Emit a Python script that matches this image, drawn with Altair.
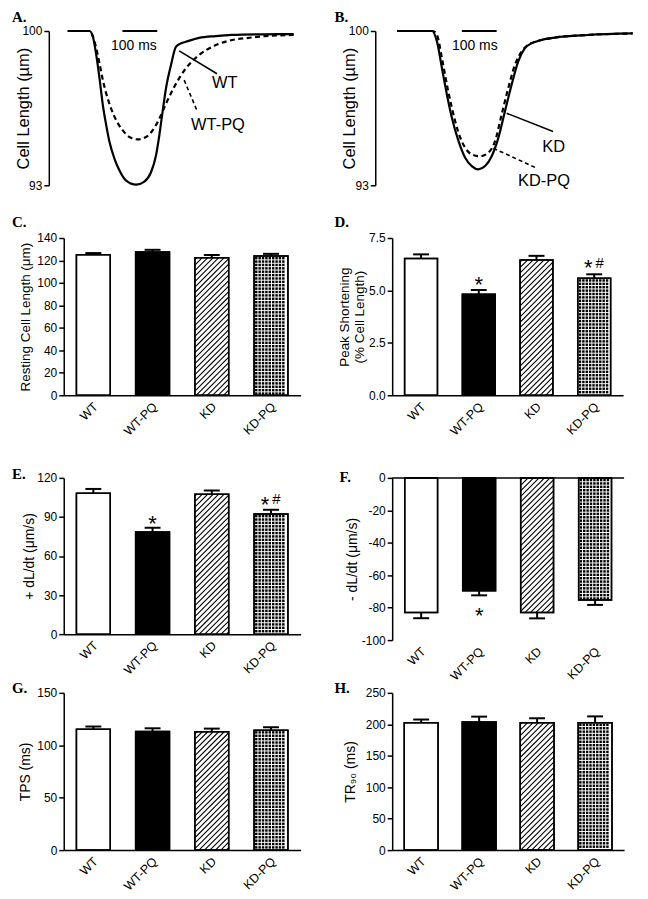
import altair as alt
import pandas as pd

SANS = "Liberation Sans"
SERIF = "Liberation Serif"

CATS = ["WT", "WT-PQ", "KD", "KD-PQ"]
FILLS = ["white", "black", "white", "white"]
HATCHED = "KD"
DOTTED = "KD-PQ"

# ---- Panel A traces (time ms, cell length um)
A_WT_T = [0, 62.9, 72.3, 82, 91.4, 100.9, 110.6, 120, 134.3, 148.6, 167.7, 196.3, 220, 239.1,
          253.4, 262.9, 272.3, 282, 296.3, 310.6, 325.7, 339.1, 377.1, 424.9, 471.4, 567.7, 648.6]
A_WT_L = [100, 100, 99.74, 98.91, 97.84, 96.63, 95.72, 94.96, 94.20, 93.67, 93.21, 93.03, 93.17, 93.59,
          94.35, 95.26, 96.33, 97.39, 98.45, 99.28, 99.44, 99.51, 99.69, 99.77, 99.82, 99.85, 99.86]
A_PQ_T = [0, 62.9, 72.3, 82, 91.4, 100.9, 110.6, 124.9, 139.1, 158, 177.1, 200.9, 224.9, 243.7,
          262.9, 282, 305.7, 339.1, 377.1, 424.9, 472.3, 520, 567.7, 648.6]
A_PQ_L = [100, 100, 99.74, 99.21, 98.52, 97.77, 97.16, 96.47, 95.95, 95.49, 95.19, 95.08, 95.19, 95.49,
          96.02, 96.70, 97.46, 98.30, 98.91, 99.36, 99.59, 99.69, 99.77, 99.82]

# ---- Panel B traces
B_KD_T = [0, 100, 114.3, 128.6, 142.9, 157.1, 176.2, 195.2, 214.3, 233.3, 252.4, 271.4, 290.5,
          309.5, 328.6, 347.6, 366.7, 385.7, 414.3, 452.4, 547.6, 676.2]
B_KD_L = [100, 100, 99.52, 98.31, 97.11, 96.06, 95.00, 94.25, 93.87, 93.72, 93.87, 94.32, 95.15,
          96.36, 97.56, 98.62, 99.22, 99.44, 99.59, 99.70, 99.82, 99.89]
B_PQ_T = [0, 102.4, 114.3, 128.6, 142.9, 157.1, 176.2, 195.2, 214.3, 238.1, 261.9, 281, 300,
          319, 338.1, 357.1, 376.2, 414.3, 452.4, 547.6, 676.2]
B_PQ_L = [100, 100, 99.82, 98.77, 97.56, 96.51, 95.38, 94.70, 94.40, 94.32, 94.48, 95.00, 96.21,
          97.41, 98.46, 99.07, 99.37, 99.59, 99.70, 99.82, 99.89]

# ---- Bar panels: means and SEM
C_MEAN = [125.0, 127.5, 122.5, 124.0]
C_ERR = [1.6, 2.0, 2.4, 1.9]
D_MEAN = [6.52, 4.82, 6.45, 5.58]
D_ERR = [0.20, 0.20, 0.20, 0.19]
E_MEAN = [108.2, 78.4, 107.5, 92.3]
E_ERR = [3.3, 3.3, 2.8, 3.2]
F_MEAN = [-83.0, -69.6, -83.0, -75.3]
F_ERR = [3.5, 2.8, 3.6, 3.0]
G_MEAN = [115.3, 113.1, 112.9, 114.4]
G_ERR = [2.6, 3.1, 3.0, 2.8]
H_MEAN = [202.6, 203.6, 202.6, 202.6]
H_ERR = [5.0, 8.6, 7.0, 10.0]

D_STARS = [("WT-PQ", 5.54), ("KD-PQ", 6.33)]
D_HASH = [("KD-PQ", 6.33)]
E_STARS = [("WT-PQ", 89.5), ("KD-PQ", 103.9)]
E_HASH = [("KD-PQ", 103.9)]
F_STARS = [("WT-PQ", -81.4)]


def letter_layer(letter, lxy):
    return alt.Chart(pd.DataFrame({"s": [letter]})).mark_text(
        font=SERIF, fontWeight="bold", fontSize=15, align="left", baseline="alphabetic", color="black"
    ).encode(text="s:N", x=alt.value(lxy[0]), y=alt.value(lxy[1]))


def trace_panel(letter, lxy, W, H, t_dom, ax_off, title_pad,
                s_t, s_v, d_t, d_v, bar_t, bar_lab, s_lead, s_lab, d_lead, d_lab, names):
    xs = alt.Scale(domain=t_dom, nice=False, zero=False)
    ys = alt.Scale(domain=[93, 100], nice=False, zero=False)
    ya = alt.Axis(values=[93, 100], format="d", title="Cell Length (µm)", offset=ax_off,
                  titlePadding=title_pad, titleFontSize=16.5, tickSize=5, labelFontSize=12, grid=False)
    X = alt.X("x:Q", scale=xs, axis=None)
    Y = alt.Y("y:Q", scale=ys, axis=ya)
    l1 = alt.Chart(pd.DataFrame({"x": s_t, "y": s_v})).mark_line(
        color="black", strokeWidth=2.2, interpolate="monotone").encode(x=X, y=Y)
    l2 = alt.Chart(pd.DataFrame({"x": d_t, "y": d_v})).mark_line(
        color="black", strokeWidth=2.2, strokeDash=[5, 3.5], interpolate="monotone").encode(x=X, y=Y)
    sb = alt.Chart(pd.DataFrame({"x": [bar_t[0]], "x2": [bar_t[1]], "y": [100.0]})).mark_rule(
        color="black", strokeWidth=2).encode(x=X, x2=alt.X2("x2"), y=Y)
    sbt = alt.Chart(pd.DataFrame({"x": [bar_lab[0]], "y": [bar_lab[1]], "s": ["100 ms"]})).mark_text(
        font=SANS, fontSize=14, align="center", baseline="middle", color="black").encode(x=X, y=Y, text="s:N")
    lead1 = alt.Chart(pd.DataFrame({"x": [s_lead[0]], "y": [s_lead[1]], "x2": [s_lead[2]], "y2": [s_lead[3]]})).mark_rule(
        color="black", strokeWidth=1.6).encode(x=X, y=Y, x2=alt.X2("x2"), y2=alt.Y2("y2"))
    lead2 = alt.Chart(pd.DataFrame({"x": [d_lead[0]], "y": [d_lead[1]], "x2": [d_lead[2]], "y2": [d_lead[3]]})).mark_rule(
        color="black", strokeWidth=1.6, strokeDash=[4, 3]).encode(x=X, y=Y, x2=alt.X2("x2"), y2=alt.Y2("y2"))
    labs = alt.Chart(pd.DataFrame({"x": [s_lab[0], d_lab[0]], "y": [s_lab[1], d_lab[1]], "s": names})).mark_text(
        font=SANS, fontSize=16.5, align="center", baseline="middle", color="black").encode(x=X, y=Y, text="s:N")
    return alt.layer(l1, l2, sb, sbt, lead1, lead2, labs, letter_layer(letter, lxy)).properties(width=W, height=H)


def bar_panel(letter, lxy, mean, err, y_dom, ticks, title, title_pad, W, H, top, bar_px,
              stars=(), hashes=(), fmt="d", hyphen=False, zero_line=False, title_size=13.5):
    n = len(CATS)
    step = W / float(n)
    hw = bar_px / 2.0 / step
    cap = 8.0 / step
    d0, d1 = y_dom

    def ypx(v):
        return H + (v - d0) / (d1 - d0) * (top - H)

    def yval(p):
        return d0 + (p - H) / (top - H) * (d1 - d0)

    xs = alt.Scale(domain=[0, n], nice=False, zero=False)
    ys = alt.Scale(domain=[d0, d1], range=[H, top], nice=False, zero=False)
    lab = "[" + ",".join("'%s'" % c for c in CATS) + "][floor(datum.value)]"
    xa = alt.Axis(values=[i + 0.5 for i in range(n)], labelExpr=lab, labelAngle=-45,
                  labelAlign="right", labelBaseline="middle", ticks=False, labelPadding=9,
                  labelOffset=2, labelFontSize=12.5, title="", domain=not zero_line, grid=False)
    ya_kw = dict(values=ticks, title=title, titlePadding=title_pad, titleFontSize=title_size,
                 tickSize=5, labelFontSize=12, labelPadding=2, grid=False)
    if hyphen:
        ya_kw["labelExpr"] = "datum.value < 0 ? '-' + format(-datum.value, 'd') : format(datum.value, 'd')"
    else:
        ya_kw["format"] = fmt
    ya = alt.Axis(**ya_kw)
    X = alt.X("x:Q", scale=xs, axis=xa)
    Y = alt.Y("y:Q", scale=ys, axis=ya)

    bars, errs, caps, hatch, dots = [], [], [], [], []
    for i, (c, m, e) in enumerate(zip(CATS, mean, err)):
        xc = i + 0.5
        end = m + e if m >= 0 else m - e
        bars.append({"cat": c, "x": xc - hw, "x2": xc + hw, "y": m, "y2": 0.0})
        errs.append({"x": xc, "y": m, "y2": end})
        caps.append({"x": xc - cap, "x2": xc + cap, "y": end})
        bx0, bx1 = (xc - hw) * step, (xc + hw) * step
        yt, yb = ypx(max(m, 0.0)), ypx(min(m, 0.0))
        if c == HATCHED:
            cc = bx0 + yt + 2.0
            while cc < bx1 + yb:
                xlo, xhi = max(bx0, cc - yb), min(bx1, cc - yt)
                if xhi > xlo + 0.3:
                    hatch.append({"x": xlo / step, "x2": xhi / step, "y": yval(cc - xlo), "y2": yval(cc - xhi)})
                cc += 5.5
        if c == DOTTED:
            gx = bx0 + 2.2
            while gx < bx1 - 1.5:
                gy = yt + 2.2
                while gy < yb - 1.5:
                    dots.append({"x": gx / step, "y": yval(gy)})
                    gy += 3.4
                gx += 3.4

    bdf = pd.DataFrame(bars)
    layers = [
        alt.Chart(bdf).mark_rect(stroke="black", strokeWidth=1.5).encode(
            x=X, x2=alt.X2("x2"), y=Y, y2=alt.Y2("y2"),
            fill=alt.Fill("cat:N", scale=alt.Scale(domain=CATS, range=FILLS), legend=None)),
        alt.Chart(pd.DataFrame(hatch)).mark_rule(color="black", strokeWidth=1.1).encode(
            x=X, x2=alt.X2("x2"), y=Y, y2=alt.Y2("y2")),
        alt.Chart(pd.DataFrame(dots)).mark_square(color="black", size=6, opacity=1).encode(x=X, y=Y),
        alt.Chart(bdf).mark_rect(fillOpacity=0, stroke="black", strokeWidth=1.5).encode(
            x=X, x2=alt.X2("x2"), y=Y, y2=alt.Y2("y2")),
        alt.Chart(pd.DataFrame(errs)).mark_rule(color="black", strokeWidth=2).encode(x=X, y=Y, y2=alt.Y2("y2")),
        alt.Chart(pd.DataFrame(caps)).mark_rule(color="black", strokeWidth=2).encode(x=X, x2=alt.X2("x2"), y=Y),
    ]
    if zero_line:
        layers.append(alt.Chart(pd.DataFrame({"x": [0.0], "x2": [float(n)], "y": [0.0]})).mark_rule(
            color="black", strokeWidth=1.5).encode(x=X, x2=alt.X2("x2"), y=Y))
    hash_cats = {c for c, _ in hashes}
    if stars:
        sdf = pd.DataFrame([{"x": CATS.index(c) + 0.5 + (-6.0 / step if c in hash_cats else 0.0), "y": v, "s": "*"}
                            for c, v in stars])
        layers.append(alt.Chart(sdf).mark_text(font=SANS, fontSize=22, baseline="middle", dy=6, color="black").encode(
            x=X, y=Y, text="s:N"))
    if hashes:
        hdf = pd.DataFrame([{"x": CATS.index(c) + 0.5 + 5.5 / step, "y": v, "s": "#"} for c, v in hashes])
        layers.append(alt.Chart(hdf).mark_text(font=SANS, fontSize=15, baseline="middle", dy=0, color="black").encode(
            x=X, y=Y, text="s:N"))
    layers.append(letter_layer(letter, lxy))
    return alt.layer(*layers).properties(width=W, height=H)


pA = trace_panel("A.", (-52, -9), 238, 155, [-11.43, 668.57], 15, -10,
                 A_WT_T, A_WT_L, A_PQ_T, A_PQ_L, (157.1, 257.1), (190.0, 99.32),
                 (320.0, 99.10, 428.6, 98.06), (450.8, 97.62),
                 (334.3, 97.77, 372.4, 96.34), (431.4, 95.74), ["WT", "WT-PQ"])
pB = trace_panel("B.", (-58, -9), 246, 155, [-14.29, 688.57], 17, -9,
                 B_KD_T, B_KD_L, B_PQ_T, B_PQ_L, (185.7, 285.7), (222.9, 99.32),
                 (314.3, 96.27, 447.6, 95.44), (449.5, 94.73),
                 (276.2, 94.68, 400.0, 93.78), (421.4, 93.18), ["KD", "KD-PQ"])

pC = bar_panel("C.", (-52, -11), C_MEAN, C_ERR, [0, 140], list(range(0, 141, 20)),
               "Resting Cell Length (μm)", 4, 238, 158, 0, 34)
pD = bar_panel("D.", (-58, -11), D_MEAN, D_ERR, [0, 7.5], [0, 2.5, 5, 7.5],
               ["Peak Shortening", "(% Cell Length)"], 2, 232, 158, 0, 33,
               stars=D_STARS, hashes=D_HASH, fmt=".1f")
pE = bar_panel("E.", (-52, 31), E_MEAN, E_ERR, [0, 120], list(range(0, 121, 30)),
               "+ dL/dt (μm/s)", 0, 238, 187, 30, 34, stars=E_STARS, hashes=E_HASH, title_size=14)
pF = bar_panel("F.", (-53, 34), F_MEAN, F_ERR, [-100, 0], list(range(-100, 1, 20)),
               "- dL/dt (μm/s)", 2, 233, 193, 30, 33, stars=F_STARS, hyphen=True, zero_line=True,
               title_size=14)
pG = bar_panel("G.", (-52, 0), G_MEAN, G_ERR, [0, 150], [0, 50, 100, 150],
               "TPS (ms)", 4, 238, 158, 0, 34, title_size=14)
pH = bar_panel("H.", (-58, 0), H_MEAN, H_ERR, [0, 250], list(range(0, 251, 50)),
               "TR₉₀ (ms)", 8, 233, 158, 0, 34, title_size=14)

chart = alt.concat(pA, pB, pC, pD, pE, pF, pG, pH, columns=2,
                   spacing={"row": 53, "column": 92}, bounds="flush", align="each").properties(
    padding={"left": 4, "top": 0, "right": 2, "bottom": 2}
).configure_axis(
    labelFont=SANS, titleFont=SANS, labelColor="black", titleColor="black",
    domainColor="black", tickColor="black", domainWidth=1.5, tickWidth=1.5,
    titleFontWeight="normal"
).configure_view(strokeWidth=0)

chart.save("out.html", embed_options={"renderer": "svg", "actions": False})
